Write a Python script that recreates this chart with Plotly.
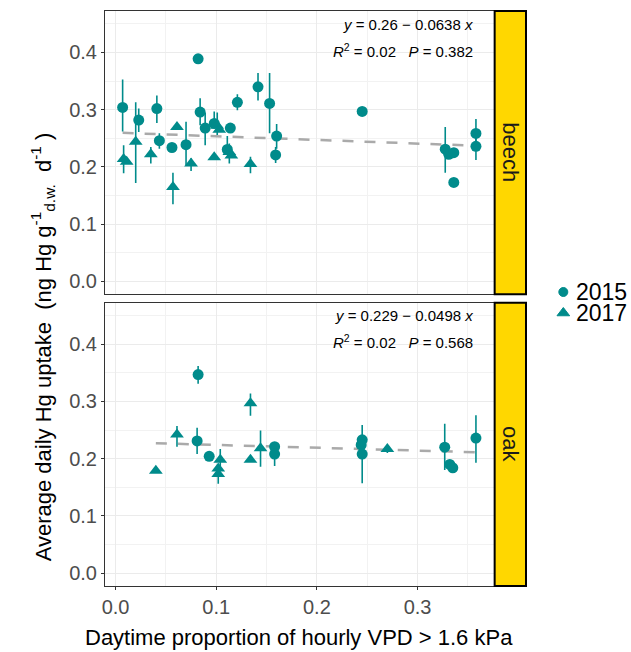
import plotly.graph_objects as go

# ---- data -------------------------------------------------------------
years = ["2015", "2017"]
species = ["beech", "oak"]

# beech, 2015
beech_2015_x = [0.007, 0.023, 0.041, 0.0435, 0.056, 0.070, 0.082, 0.084, 0.089, 0.098,
                0.114, 0.111, 0.121, 0.1415, 0.153, 0.160, 0.159, 0.245, 0.3275, 0.331,
                0.336, 0.336, 0.358, 0.358]
beech_2015_y = [0.304, 0.282, 0.302, 0.246, 0.234, 0.239, 0.389, 0.296, 0.268, 0.276,
                0.268, 0.2305, 0.313, 0.340, 0.311, 0.254, 0.221, 0.297, 0.231, 0.222,
                0.225, 0.173, 0.2585, 0.236]
beech_2015_lo = [0.262, 0.261, 0.277, 0.232, 0.234, 0.203, 0.389, 0.273, 0.238, 0.276,
                 0.268, 0.221, 0.299, 0.316, 0.259, 0.232, 0.207, 0.297, 0.190, 0.222,
                 0.225, 0.173, 0.236, 0.212]
beech_2015_hi = [0.353, 0.302, 0.325, 0.259, 0.234, 0.279, 0.389, 0.320, 0.295, 0.297,
                 0.268, 0.254, 0.327, 0.364, 0.364, 0.275, 0.235, 0.297, 0.270, 0.222,
                 0.225, 0.173, 0.284, 0.258]

# beech, 2017
beech_2017_x = [0.008, 0.011, 0.020, 0.035, 0.057, 0.061, 0.075, 0.098, 0.101, 0.103,
                0.113, 0.115, 0.134]
beech_2017_y = [0.214, 0.209, 0.244, 0.222, 0.165, 0.270, 0.206, 0.217, 0.272, 0.265,
                0.226, 0.220, 0.205]
beech_2017_lo = [0.189, 0.209, 0.172, 0.206, 0.135, 0.270, 0.193, 0.217, 0.256, 0.265,
                 0.206, 0.220, 0.189]
beech_2017_hi = [0.238, 0.209, 0.313, 0.235, 0.190, 0.270, 0.215, 0.217, 0.295, 0.265,
                 0.241, 0.220, 0.218]

# oak, 2015
oak_2015_x = [0.082, 0.081, 0.093, 0.158, 0.158, 0.245, 0.244, 0.245, 0.327, 0.332,
              0.335, 0.358]
oak_2015_y = [0.347, 0.231, 0.204, 0.221, 0.208, 0.233, 0.224, 0.208, 0.220, 0.190,
              0.184, 0.236]
oak_2015_lo = [0.331, 0.208, 0.204, 0.221, 0.187, 0.233, 0.224, 0.157, 0.180, 0.190,
               0.184, 0.193]
oak_2015_hi = [0.362, 0.254, 0.204, 0.221, 0.221, 0.233, 0.224, 0.259, 0.261, 0.190,
               0.184, 0.276]

# oak, 2017
oak_2017_x = [0.040, 0.061, 0.104, 0.102, 0.102, 0.134, 0.134, 0.144, 0.270]
oak_2017_y = [0.179, 0.242, 0.198, 0.183, 0.173, 0.297, 0.198, 0.218, 0.217]
oak_2017_lo = [0.179, 0.221, 0.182, 0.183, 0.156, 0.275, 0.198, 0.186, 0.210]
oak_2017_hi = [0.179, 0.257, 0.217, 0.183, 0.173, 0.314, 0.198, 0.249, 0.224]

# linear fits (intercept, slope, R2, P)
fit_intercept = [0.26, 0.229]
fit_slope = [-0.0638, -0.0498]
fit_r2 = ["0.02", "0.02"]
fit_p = ["0.382", "0.568"]
fit_int_txt = ["0.26", "0.229"]
fit_slope_txt = ["0.0638", "0.0498"]

x_ticks = [0.0, 0.1, 0.2, 0.3]
y_ticks = [0.0, 0.1, 0.2, 0.3, 0.4]

# ---- styling ----------------------------------------------------------
W, H = 631, 652
TEAL = "#008b8b"
FONT = "Liberation Sans"
symbols = {"2015": "circle", "2017": "triangle-up"}
sizes = {"2015": 11, "2017": 12}

series = {
    ("beech", "2015"): (beech_2015_x, beech_2015_y, beech_2015_lo, beech_2015_hi),
    ("beech", "2017"): (beech_2017_x, beech_2017_y, beech_2017_lo, beech_2017_hi),
    ("oak", "2015"): (oak_2015_x, oak_2015_y, oak_2015_lo, oak_2015_hi),
    ("oak", "2017"): (oak_2017_x, oak_2017_y, oak_2017_lo, oak_2017_hi),
}

# axis ids: top panel = beech (x2/y2), bottom panel = oak (x/y)
axis_of = {"beech": ("x2", "y2"), "oak": ("x", "y")}

fig = go.Figure()

for sp_i, sp in enumerate(species):
    xa, ya = axis_of[sp]
    # regression line over the species' x range
    all_x = series[(sp, "2015")][0] + series[(sp, "2017")][0]
    x0, x1 = min(all_x), max(all_x)
    fig.add_trace(go.Scatter(
        x=[x0, x1],
        y=[fit_intercept[sp_i] + fit_slope[sp_i] * x0, fit_intercept[sp_i] + fit_slope[sp_i] * x1],
        mode="lines", line=dict(color="#aaaaaa", width=2.5, dash="11px,11px"),
        xaxis=xa, yaxis=ya, showlegend=False, hoverinfo="skip"))
    for yr in years:
        xs, ys, lo, hi = series[(sp, yr)]
        fig.add_trace(go.Scatter(
            x=xs, y=ys, mode="markers",
            marker=dict(symbol=symbols[yr], size=sizes[yr], color=TEAL, line=dict(width=0)),
            error_y=dict(type="data", symmetric=False,
                         array=[h - v for h, v in zip(hi, ys)],
                         arrayminus=[v - l for v, l in zip(ys, lo)],
                         color=TEAL, thickness=1.6, width=0),
            xaxis=xa, yaxis=ya, showlegend=False, name=yr))

# legend keys in a small subplot to the right of the strips (pixel units)
LEG_X = [548, 578]
LEG_Y = [328, 276]
fig.add_trace(go.Scatter(
    x=[563, 563], y=[292, 313], mode="markers",
    marker=dict(symbol=["circle", "triangle-up"], size=[9, 11], color=TEAL,
                opacity=1, line=dict(width=1, color=TEAL)),
    xaxis="x3", yaxis="y3", showlegend=False, hoverinfo="skip", cliponaxis=False))

# ---- layout -----------------------------------------------------------
px_x0, px_x1 = 102.5, 493.0
top_dom = [1 - 294.3 / H, 1 - 11.0 / H]
bot_dom = [1 - 586.0 / H, 1 - 302.7 / H]
x_dom = [px_x0 / W, px_x1 / W]
x_range = [-0.0105, 0.3756]
y_range = [-0.0225, 0.4725]

grid = dict(showgrid=True, gridcolor="#ebebeb", gridwidth=1,
            minor=dict(showgrid=True, gridcolor="#f2f2f2", gridwidth=0.6, dtick=0.05),
            showline=True, linecolor="#333333", linewidth=1, mirror=True,
            zeroline=False, tickfont=dict(family=FONT, size=20, color="#4d4d4d"),
            tickcolor="#333333", tickwidth=1, ticklen=3)

fig.update_layout(
    width=W, height=H, margin=dict(l=0, r=0, t=0, b=0),
    paper_bgcolor="white", plot_bgcolor="rgba(0,0,0,0)",
    font=dict(family=FONT, color="black"),
    xaxis=dict(domain=x_dom, range=x_range, anchor="y", tickvals=x_ticks,
               ticktext=["0.0", "0.1", "0.2", "0.3"], ticks="outside", **grid),
    xaxis2=dict(domain=x_dom, range=x_range, anchor="y2", matches="x", tickvals=x_ticks,
                showticklabels=False, ticks="", **grid),
    yaxis=dict(domain=bot_dom, range=y_range, anchor="x", tickvals=y_ticks,
               ticktext=["0.0", "0.1", "0.2", "0.3", "0.4"], ticks="outside", **grid),
    yaxis2=dict(domain=top_dom, range=y_range, anchor="x2", tickvals=y_ticks,
                ticktext=["0.0", "0.1", "0.2", "0.3", "0.4"], ticks="outside", **grid),
    xaxis3=dict(domain=[LEG_X[0] / W, LEG_X[1] / W], range=LEG_X, visible=False,
                anchor="y3", fixedrange=True),
    yaxis3=dict(domain=[1 - LEG_Y[0] / H, 1 - LEG_Y[1] / H], range=LEG_Y, visible=False,
                anchor="x3", fixedrange=True),
    showlegend=False,
)

# facet strips
strip_x = [494.0 / W, 525.5 / W]
shapes = []
annotations = []
for sp, dom in (("beech", top_dom), ("oak", bot_dom)):
    shapes.append(dict(type="rect", xref="paper", yref="paper",
                       x0=strip_x[0], x1=strip_x[1], y0=dom[0], y1=dom[1],
                       fillcolor="#ffd700", line=dict(color="black", width=2)))
    annotations.append(dict(text=sp, xref="paper", yref="paper",
                            x=(strip_x[0] + strip_x[1]) / 2, y=(dom[0] + dom[1]) / 2,
                            xanchor="center", yanchor="middle",
                            showarrow=False, textangle=90,
                            font=dict(family=FONT, size=22, color="#1a1a1a")))

# fit equations
NB = "\u00a0"
eq_rows = {"beech": (24.0, 50.7), "oak": (315.0, 341.7)}
for sp_i, sp in enumerate(species):
    r1, r2 = eq_rows[sp]
    annotations.append(dict(
        text=f"<i>y</i> = {fit_int_txt[sp_i]} \u2212 {fit_slope_txt[sp_i]} <i>x</i>",
        xref="paper", yref="paper", x=474 / W, y=1 - r1 / H, xanchor="right", yanchor="middle",
        showarrow=False, font=dict(family=FONT, size=15, color="black")))
    annotations.append(dict(
        text=f"<i>R</i><sup>2</sup> = {fit_r2[sp_i]}{NB*3}<i>P</i> = {fit_p[sp_i]}",
        xref="paper", yref="paper", x=474 / W, y=1 - r2 / H, xanchor="right", yanchor="middle",
        showarrow=False, font=dict(family=FONT, size=15, color="black")))

# legend labels
for lab, py in (("2015", 292), ("2017", 313)):
    annotations.append(dict(text=lab, xref="paper", yref="paper", x=574 / W, y=1 - py / H,
                            xanchor="left", yanchor="middle", showarrow=False,
                            font=dict(family=FONT, size=23, color="black")))

# axis titles
annotations.append(dict(text="Daytime proportion of hourly VPD > 1.6 kPa",
                        xref="paper", yref="paper", x=(px_x0 + px_x1) / 2 / W, y=1 - 637 / H,
                        xanchor="center", yanchor="middle", showarrow=False,
                        font=dict(family=FONT, size=22, color="black")))
annotations.append(dict(
    text=("Average daily Hg uptake" + NB * 2 + "(ng" + NB + "Hg" + NB
          + "g<sup>-1</sup><sub>d.w.</sub>" + NB * 2 + "d<sup>-1</sup>" + NB + ")"),
    xref="paper", yref="paper", x=40 / W, y=1 - 563 / H,
    xanchor="center", yanchor="bottom", showarrow=False, textangle=-90,
    font=dict(family=FONT, size=22, color="black")))

fig.update_layout(shapes=shapes, annotations=annotations)

fig.write_html("out.html")
